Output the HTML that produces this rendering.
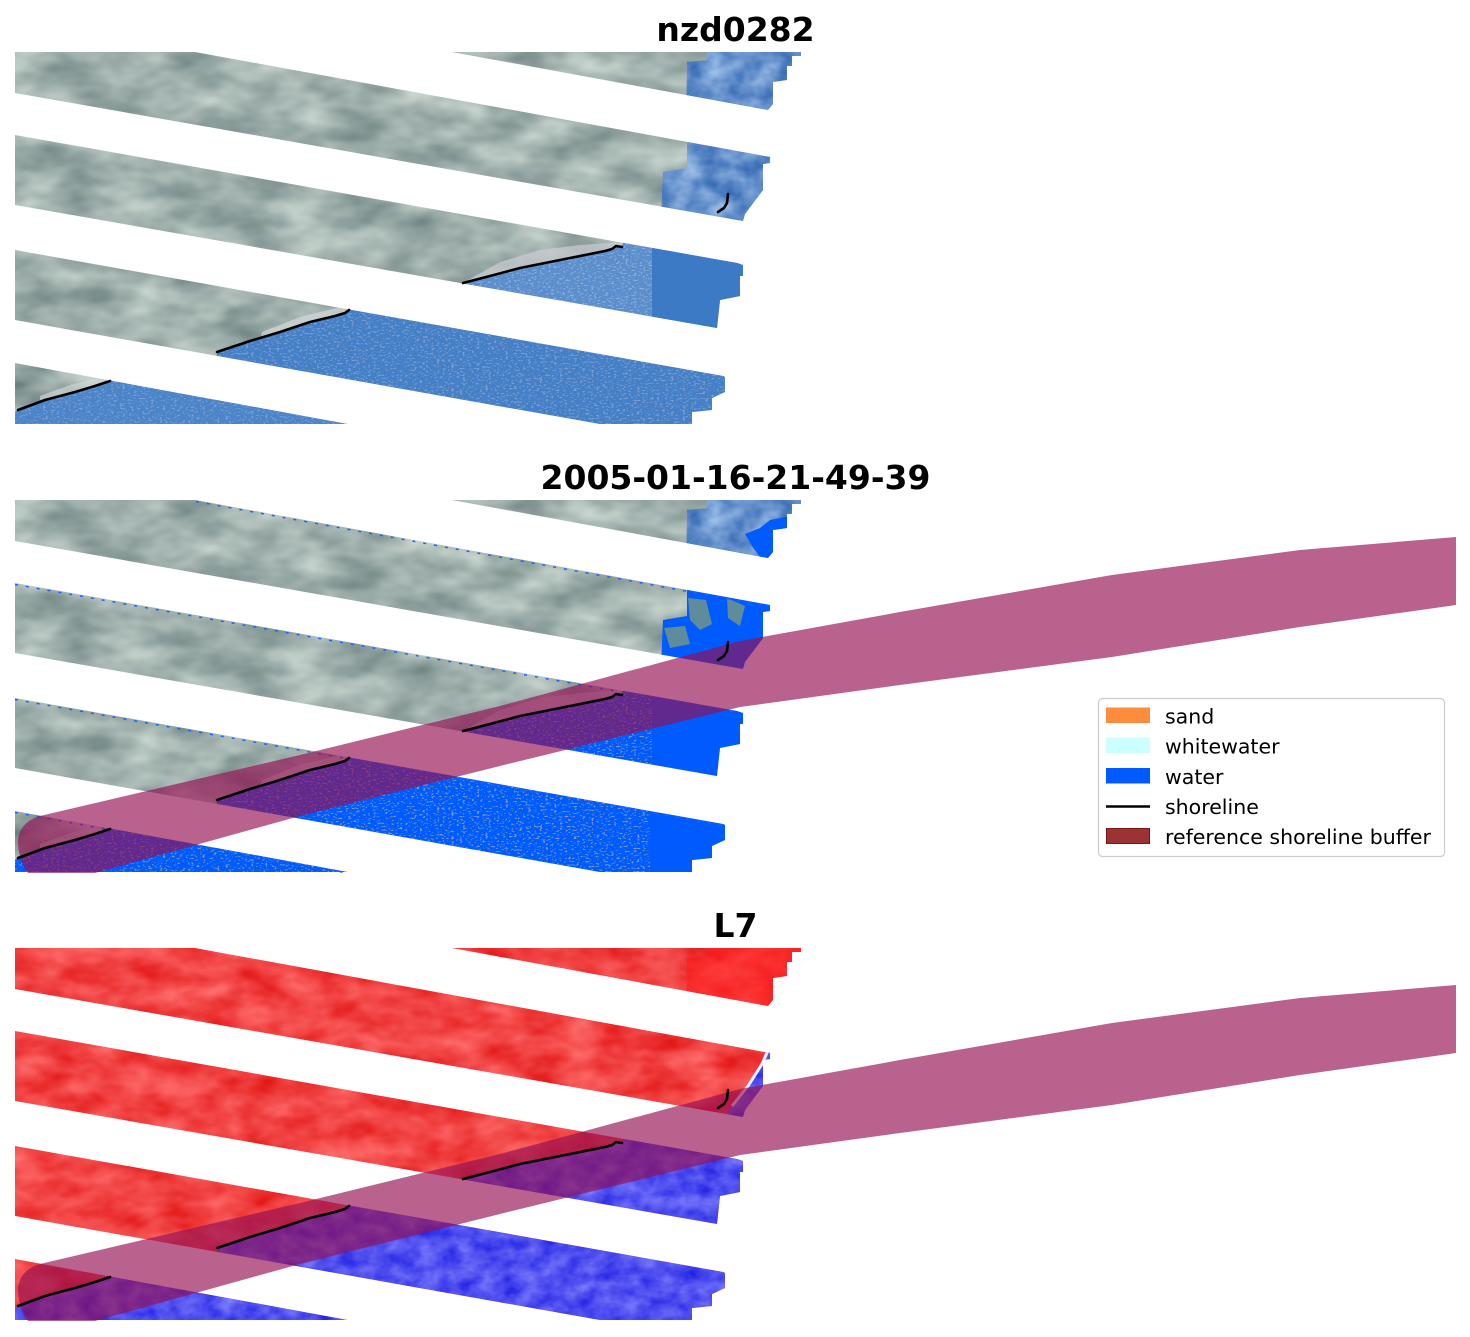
<!DOCTYPE html>
<html><head><meta charset="utf-8">
<style>html,body{margin:0;padding:0;background:#fff;}svg{display:block}</style>
</head>
<body>
<svg width="1470" height="1337" viewBox="0 0 1470 1337" xmlns="http://www.w3.org/2000/svg">
<defs>
 <clipPath id="bands">
  <polygon points="452,52 801,52 801,56 792,56 792,66 787,66 787,80 773,82 773,104 768,110"/>
  <polygon points="15,52 195,52 770,157 770,163 763,164 763,190 745,214 743,221 15,93"/>
  <polygon points="15,135 737,263 743,265 743,276 740,276 740,296 720,300 717,328 15,205"/>
  <polygon points="15,250 723,376 725,377 725,392 712,398 712,410 692,412 692,424 600,424 15,320"/>
  <polygon points="15,363 347,424 15,424"/>
 </clipPath>
 <clipPath id="axes"><rect x="15" y="52" width="1441" height="373"/></clipPath>

 <filter id="fLand" x="0" y="0" width="1" height="1" color-interpolation-filters="sRGB">
  <feTurbulence type="fractalNoise" baseFrequency="0.018 0.035" numOctaves="3" seed="7" result="n"/>
  <feColorMatrix in="n" type="matrix" values="0.5 0 0 0 0.37  0.45 0 0 0 0.46  0.42 0 0 0 0.46  0 0 0 0 1" result="c"/>
  <feComposite in="c" in2="SourceGraphic" operator="in"/>
 </filter>
 <filter id="fRI" x="0" y="0" width="1" height="1" color-interpolation-filters="sRGB">
  <feTurbulence type="fractalNoise" baseFrequency="0.04 0.05" numOctaves="3" seed="3" result="n"/>
  <feColorMatrix in="n" type="matrix" values="0.6 0 0 0 0.1  0.5 0 0 0 0.32  0.3 0 0 0 0.65  0 0 0 0 1" result="c"/>
  <feComposite in="c" in2="SourceGraphic" operator="in"/>
 </filter>
 <filter id="fSpeck1" x="0" y="0" width="1" height="1" color-interpolation-filters="sRGB">
  <feTurbulence type="fractalNoise" baseFrequency="0.35 0.6" numOctaves="2" seed="11" result="n"/>
  <feColorMatrix in="n" type="matrix" values="0 0 0 0 0.56  0 0 0 0 0.68  0 0 0 0 0.85  12 0 0 0 -7" result="c"/>
  <feComposite in="c" in2="SourceGraphic" operator="in"/>
 </filter>
 <filter id="fSpeck2" x="0" y="0" width="1" height="1" color-interpolation-filters="sRGB">
  <feTurbulence type="fractalNoise" baseFrequency="0.35 0.6" numOctaves="2" seed="11" result="n"/>
  <feColorMatrix in="n" type="matrix" values="0 0 0 0 0.47  0 0 0 0 0.6  0 0 0 0 0.76  12 0 0 0 -7.2" result="c"/>
  <feComposite in="c" in2="SourceGraphic" operator="in"/>
 </filter>
 <filter id="fRed" x="0" y="0" width="1" height="1" color-interpolation-filters="sRGB">
  <feTurbulence type="fractalNoise" baseFrequency="0.025 0.045" numOctaves="3" seed="5" result="n"/>
  <feColorMatrix in="n" type="matrix" values="0.15 0 0 0 0.87  0.45 0 0 0 0.04  0.45 0 0 0 0.04  0 0 0 0 1" result="c"/>
  <feComposite in="c" in2="SourceGraphic" operator="in"/>
 </filter>
 <filter id="fBlue" x="0" y="0" width="1" height="1" color-interpolation-filters="sRGB">
  <feTurbulence type="fractalNoise" baseFrequency="0.05 0.07" numOctaves="3" seed="9" result="n"/>
  <feColorMatrix in="n" type="matrix" values="0.45 0 0 0 0.09  0.45 0 0 0 0.09  0.12 0 0 0 0.88  0 0 0 0 1" result="c"/>
  <feComposite in="c" in2="SourceGraphic" operator="in"/>
 </filter>

 <path id="buf" d="M40,368 L300,307 L500,258 L740,193 L900,164 L1112,127 L1300,102 L1456,89 L1456,157 L1300,179 L1112,209 L900,237 L740,259 L500,318 L300,368 L95,425 L28,425 Q18,412 18,392 Q20,374 40,368 Z"/>
 <g id="shores" fill="none" stroke="#000" stroke-width="2.6" stroke-linecap="round" stroke-linejoin="round">
  <path d="M728,194 L727,203 L724,208 L718,212"/>
  <path d="M463,283 L490,276 L520,268 L550,262 L580,256 L605,251 L612,249 L616,246 L622,247"/>
  <path d="M217,352 L250,341 L280,332 L310,322 L335,316 L345,313 L349,310"/>
  <path d="M18,410 L45,400 L75,392 L95,386 L110,381"/>
 </g>
 <g id="beaches">
  <polygon points="463,283 490,276 520,268 550,262 580,256 605,251 622,247 622,242 580,245 540,250 500,262" fill="#cdcdd4" opacity="0.7"/>
  <polygon points="260,341 349,311 345,306 300,317 262,332" fill="#dde0e0" opacity="0.6"/>
  <polygon points="40,402 110,381 108,376 70,385 40,396" fill="#d6dcda" opacity="0.6"/>
 </g>
</defs>

<!-- Titles -->
<g font-family="'DejaVu Sans','Liberation Sans',sans-serif" font-weight="bold" font-size="33" text-anchor="middle" fill="#000">
 <text x="735.5" y="41">nzd0282</text>
 <text x="735.5" y="489">2005-01-16-21-49-39</text>
 <text x="735.5" y="937">L7</text>
</g>

<!-- Panel 1 -->
<g>
 <g clip-path="url(#bands)">
  <rect x="15" y="52" width="790" height="372" fill="#99aaa6" filter="url(#fLand)"/>
  <use href="#beaches"/>
  <polygon points="707,45 850,45 850,130 686,130 687,62 707,60" fill="#5d8cc2" filter="url(#fRI)"/>
  <polygon points="687,130 850,130 850,240 660,240 663,172 687,168" fill="#6c98cc" filter="url(#fRI)"/>
  <polygon points="463,283 490,276 520,268 550,262 580,256 605,251 612,249 616,246 622,247 626,230 790,230 790,365 463,307" fill="#5b8ecd"/>
  <polygon points="463,283 490,276 520,268 550,262 580,256 605,251 612,249 616,246 622,247 626,230 790,230 790,365 463,307" fill="#fff" filter="url(#fSpeck1)"/>
  <polygon points="652,230 790,230 790,365 652,341" fill="#3d7ac6"/>
  <polygon points="217,352 250,341 280,332 310,322 335,316 345,313 349,310 349,287 790,365 790,430 217,430" fill="#457fc6"/>
  <polygon points="217,352 250,341 280,332 310,322 335,316 345,313 349,310 349,287 790,365 790,430 217,430" fill="#fff" filter="url(#fSpeck1)" opacity="0.7"/>
  <polygon points="15,412 18,410 45,400 75,392 95,386 110,381 110,358 400,410 400,430 15,430" fill="#4b84c8"/>
  <polygon points="15,412 18,410 45,400 75,392 95,386 110,381 110,358 400,410 400,430 15,430" fill="#fff" filter="url(#fSpeck1)" opacity="0.7"/>
 </g>
 <use href="#shores"/>
</g>

<!-- Panel 2 -->
<g transform="translate(0,448)">
 <g clip-path="url(#bands)">
  <rect x="15" y="52" width="790" height="372" fill="#99aaa6" filter="url(#fLand)"/>
  <use href="#beaches"/>
  <polygon points="707,45 850,45 850,130 686,130 687,62 707,60" fill="#4f80aa" filter="url(#fRI)"/>
  <polygon points="745,86 760,80 770,72 800,66 800,112 762,112 752,98" fill="#005bff"/>
  <polygon points="687,130 850,130 850,240 660,240 663,172 687,168" fill="#005bff"/>
  <polygon points="688,150 706,152 712,176 700,182 690,172" fill="#5f8c9a"/>
  <polygon points="727,150 745,158 740,178 728,170" fill="#5f8c9a"/>
  <polygon points="664,180 685,178 690,196 670,200" fill="#5f8c9a"/>
  <polygon points="463,283 490,276 520,268 550,262 580,256 605,251 612,249 616,246 622,247 626,230 790,230 790,365 463,307" fill="#005bff"/>
  <polygon points="463,283 490,276 520,268 550,262 580,256 605,251 612,249 616,246 622,247 626,230 652,230 652,341 463,307" fill="#fff" filter="url(#fSpeck2)"/>
  <polygon points="217,352 250,341 280,332 310,322 335,316 345,313 349,310 349,287 790,365 790,430 217,430" fill="#005bff"/>
  <polygon points="217,352 250,341 280,332 310,322 335,316 345,313 349,310 349,287 650,340 650,430 217,430" fill="#fff" filter="url(#fSpeck2)"/>
  <polygon points="15,412 18,410 45,400 75,392 95,386 110,381 110,358 400,410 400,430 15,430" fill="#005bff"/>
  <polygon points="15,412 18,410 45,400 75,392 95,386 110,381 110,358 400,410 400,430 15,430" fill="#fff" filter="url(#fSpeck2)"/>
 </g>
 <g stroke="#1a64ff" stroke-width="1.5" stroke-dasharray="3 8" fill="none">
  <line x1="196" y1="53.5" x2="770" y2="158.5"/>
  <line x1="15" y1="136.5" x2="737" y2="264.5"/>
  <line x1="15" y1="251.5" x2="723" y2="377.5"/>
  <line x1="15" y1="364.5" x2="347" y2="425"/>
 </g>
 <g clip-path="url(#axes)">
  <use href="#buf" fill="rgb(148,15,83)" fill-opacity="0.653"/>
 </g>
 <use href="#shores"/>
</g>

<!-- Panel 3 -->
<g transform="translate(0,896)">
 <g clip-path="url(#bands)">
  <rect x="15" y="52" width="790" height="372" fill="#f04040" filter="url(#fRed)"/>
  <polygon points="707,45 850,45 850,130 686,130 687,62 707,60" fill="#ff1a1a" opacity="0.55"/>
  <polygon points="770,148 785,148 785,230 720,230 732,210 748,190 762,168" fill="#4d4df0" filter="url(#fBlue)"/>
  <polyline points="770,150 762,168 748,190 732,210" fill="none" stroke="#f4f0ff" stroke-width="3"/>
  <polygon points="463,283 490,276 520,268 550,262 580,256 605,251 612,249 616,246 622,247 626,230 790,230 790,365 463,307" fill="#4d4df0" filter="url(#fBlue)"/>
  <polygon points="217,352 250,341 280,332 310,322 335,316 345,313 349,310 349,287 790,365 790,430 217,430" fill="#4d4df0" filter="url(#fBlue)"/>
  <polygon points="15,412 18,410 45,400 75,392 95,386 110,381 110,358 400,410 400,430 15,430" fill="#4d4df0" filter="url(#fBlue)"/>
 </g>
 <g clip-path="url(#axes)">
  <use href="#buf" fill="rgb(148,15,83)" fill-opacity="0.653"/>
 </g>
 <use href="#shores"/>
</g>

<!-- Legend -->
<g>
 <rect x="1098.5" y="698.5" width="346" height="158" rx="4" ry="4" fill="#ffffff" fill-opacity="0.8" stroke="#cccccc" stroke-width="1.2"/>
 <rect x="1106" y="707.5" width="44" height="15.5" fill="#fd8d3c"/>
 <rect x="1106" y="737.5" width="44" height="15.5" fill="#ccffff"/>
 <rect x="1106" y="768" width="44" height="15.5" fill="#005bff"/>
 <line x1="1106" y1="806.5" x2="1150" y2="806.5" stroke="#000" stroke-width="2.6"/>
 <rect x="1106.5" y="828.5" width="43" height="15" fill="#9b3335" stroke="#7a1616" stroke-width="1"/>
 <g font-family="'DejaVu Sans','Liberation Sans',sans-serif" font-size="20.5" fill="#000">
  <text x="1165" y="723.5">sand</text>
  <text x="1165" y="753.5">whitewater</text>
  <text x="1165" y="783.8">water</text>
  <text x="1165" y="814">shoreline</text>
  <text x="1165" y="844">reference shoreline buffer</text>
 </g>
</g>
</svg>
</body></html>
